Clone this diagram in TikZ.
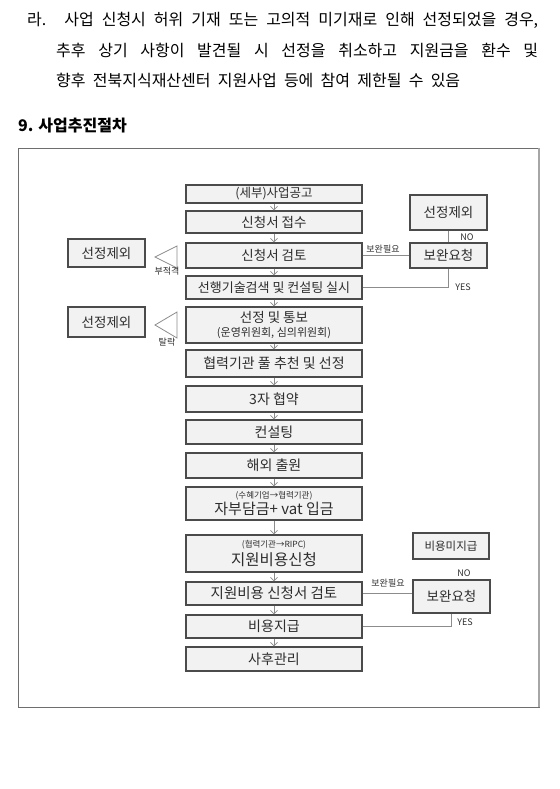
\documentclass[tikz,border=0pt]{standalone}
\usepackage{fontspec}
\setmainfont{Noto Sans CJK KR}
\usepackage{xcolor}
\usepackage{tikz}
\usetikzlibrary{arrows.meta}
\definecolor{boxgray}{RGB}{242,242,242}
\definecolor{edgegray}{RGB}{75,75,75}
\definecolor{textgray}{RGB}{45,45,45}
\definecolor{linegray}{RGB}{140,140,140}
\definecolor{framegray}{RGB}{110,110,110}
\newcommand{\krsize}[1]{\fontsize{#1}{#1}\selectfont}

\begin{document}
\begin{tikzpicture}[x=1pt, y=-1pt,
  proc/.style={draw=edgegray, fill=boxgray, line width=1.1pt, minimum width=176pt, inner sep=0pt, text=textgray, align=center},
  side/.style={draw=edgegray, fill=boxgray, line width=1.1pt, minimum width=77pt, inner sep=0pt, text=textgray},
  lbl/.style={text=textgray, font=\krsize{9}, inner sep=0pt},
  flow/.style={draw=linegray, line width=0.8pt, -{Straight Barb[length=3.5pt, width=7pt]}},
  link/.style={draw=linegray, line width=0.8pt},
  tri/.style={draw=linegray, line width=0.8pt, fill=white, line join=miter}]
\useasboundingbox (0,0) rectangle (559,789);

%% note and heading
\node[anchor=west, inner sep=0pt, font=\krsize{16}] (note1) at (27,20) {\makebox[511pt][s]{라. 사업 신청시 허위 기재 또는 고의적 미기재로 인해 선정되었을 경우,}};
\node[anchor=west, inner sep=0pt, font=\krsize{16}] (note2) at (56,50) {\makebox[482pt][s]{추후 상기 사항이 발견될 시 선정을 취소하고 지원금을 환수 및}};
\node[anchor=west, inner sep=0pt, font=\krsize{16}] (note3) at (56,80) {\makebox[404pt][s]{향후 전북지식재산센터 지원사업 등에 참여 제한될 수 있음}};
\node[anchor=west, inner sep=0pt, font=\krsize{16}\bfseries] (title) at (18,126) {9. 사업추진절차};

%% frame
\draw[framegray, line width=1pt] (18,148) rectangle (539,707);
\draw[gray!70, line width=1.6pt] (539,148) -- (539,707);

%% main steps
\node[proc, minimum height=18pt, font=\krsize{12.5}] (b1) at (274,194) {(세부)사업공고};
\node[proc, minimum height=22pt, font=\krsize{13.5}] (b2) at (274,222) {신청서 접수};
\node[proc, minimum height=25pt, font=\krsize{13.5}] (b3) at (274,255.5) {신청서 검토};
\node[proc, minimum height=23pt, font=\krsize{13}] (b4) at (274,287.5) {선행기술검색 및 컨설팅 실시};
\node[proc, minimum height=36pt, font=\krsize{13.5}] (b5) at (274,325) {선정 및 통보\\[1pt]{\krsize{11}(운영위원회, 심의위원회)}};
\node[proc, minimum height=27pt, font=\krsize{14}] (b6) at (274,363.5) {협력기관 풀 추천 및 선정};
\node[proc, minimum height=26pt, font=\krsize{14}] (b7) at (274,399) {3자 협약};
\node[proc, minimum height=24pt, font=\krsize{14}] (b8) at (274,432) {컨설팅};
\node[proc, minimum height=25pt, font=\krsize{14}] (b9) at (274,465.5) {해외 출원};
\node[proc, minimum height=33pt, font=\krsize{15}] (b10) at (274,503.5) {{\krsize{8.5}(수혜기업→협력기관)}\\[1pt]자부담금+ vat 입금};
\node[proc, minimum height=37pt, font=\krsize{15.5}] (b11) at (274,553.5) {{\krsize{8.5}(협력기관→RIPC)}\\[2pt]지원비용신청};
\node[proc, minimum height=23pt, font=\krsize{14.5}] (b12) at (274,593.5) {지원비용 신청서 검토};
\node[proc, minimum height=23pt, font=\krsize{14}] (b13) at (274,626.5) {비용지급};
\node[proc, minimum height=24pt, font=\krsize{14}] (b14) at (274,659) {사후관리};

\foreach \a/\b in {b1/b2, b2/b3, b3/b4, b4/b5, b5/b6, b6/b7, b7/b8, b8/b9, b9/b10, b10/b11, b11/b12, b12/b13, b13/b14}
  \draw[flow] (\a.south) -- (\b.north);

%% side boxes
\node[side, minimum height=35pt, font=\krsize{13.5}] (excl1) at (448.5,212.5) {선정제외};
\node[side, minimum height=25pt, font=\krsize{13.5}] (rev1) at (448.5,255.5) {보완요청};
\node[side, minimum width=76pt, minimum height=26pt, font=\krsize{11.5}] (nopay) at (451,546) {비용미지급};
\node[side, minimum height=33pt, font=\krsize{13.5}] (rev2) at (451.5,596.5) {보완요청};
\node[side, minimum height=28pt, font=\krsize{13.5}] (excl2) at (106.5,253) {선정제외};
\node[side, minimum height=30pt, font=\krsize{13.5}] (excl3) at (106.5,322) {선정제외};

%% review loops
\draw[link] (b3) -- (rev1);
\draw[link] (excl1) -- (rev1);
\draw[link] (b4.east) -| (rev1.south);
\draw[link] (b12.east) -- (b12.east -| rev2.west);
\draw[link] (b13.east) -| (rev2.south);

\node[lbl] (need1) at (383,249) {보완필요};
\node[lbl] (no1) at (467,237) {NO};
\node[lbl] (yes1) at (463,287) {YES};
\node[lbl] (need2) at (388,583) {보완필요};
\node[lbl] (no2) at (464,573) {NO};
\node[lbl] (yes2) at (465,622) {YES};

%% drop-outs
\draw[tri] (177,246) -- (155,257) -- (177,268) -- cycle;
\draw[tri] (177,312) -- (155,325) -- (177,338) -- cycle;
\node[lbl] (unfit) at (167,271) {부적격};
\node[lbl] (fail) at (167,342) {탈락};
\end{tikzpicture}
\end{document}
